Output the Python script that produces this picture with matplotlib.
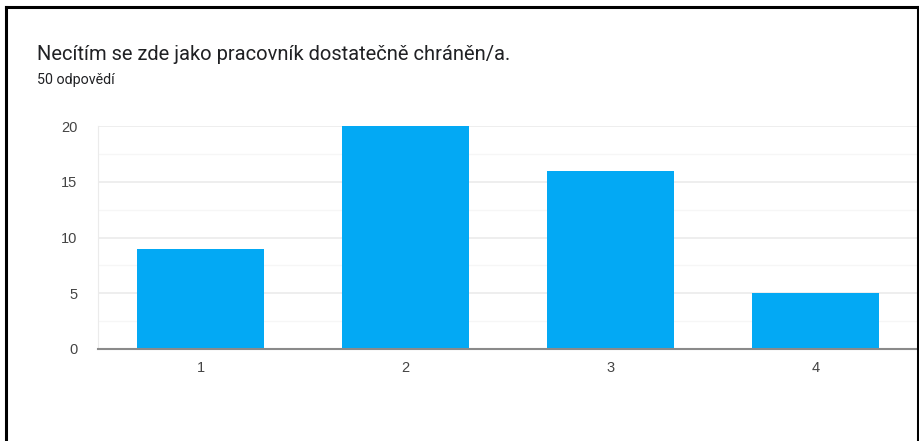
import matplotlib
matplotlib.use("Agg")
import matplotlib.pyplot as plt
from matplotlib.lines import Line2D

# data
categories = ["1", "2", "3", "4"]
counts = [9, 20, 16, 5]
title = "Necítím se zde jako pracovník dostatečně chráněn/a."
subtitle = "50 odpovědí"
y_ticks = [0, 5, 10, 15, 20]
y_minor = [2.5, 7.5, 12.5, 17.5]

plt.rcParams["font.family"] = ["Roboto", "DejaVu Sans"]

fig = plt.figure(figsize=(9.2, 4.41), dpi=100)
ax = fig.add_axes([98 / 920, 1 - 349 / 441, 820 / 920, 223 / 441])

x = list(range(len(categories)))
ax.bar(x, counts, width=0.62, color="#03a9f4", zorder=3)

ax.set_xlim(-0.5, len(categories) - 0.5)
ax.set_ylim(0, 20)
ax.set_xticks(x)
ax.set_xticklabels(categories)
ax.set_yticks(y_ticks)
ax.set_yticks(y_minor, minor=True)

ax.grid(axis="y", which="major", color="#ebebeb", linewidth=1.2, zorder=0)
ax.grid(axis="y", which="minor", color="#f6f6f6", linewidth=1.0, zorder=0)
ax.tick_params(axis="both", which="both", length=0, labelsize=10.5, labelcolor="#444444")
ax.tick_params(axis="y", pad=15)
ax.tick_params(axis="x", pad=9)
for lbl in ax.get_xticklabels() + ax.get_yticklabels():
    lbl.set_family(["Liberation Sans", "DejaVu Sans"])

for side in ["top", "right"]:
    ax.spines[side].set_visible(False)
ax.spines["left"].set_color("#ebebeb")
ax.spines["bottom"].set_color("#8a8a8a")
ax.spines["bottom"].set_linewidth(1.5)
ax.spines["bottom"].set_zorder(4)

fig.text(37 / 920, 1 - 60 / 441, title, fontsize=14.5, color="#202124", va="baseline")
fig.text(37 / 920, 1 - 84 / 441, subtitle, fontsize=10.3, color="#202124", va="baseline")

# black frame of the screenshot
frame = dict(color="black", linewidth=2.2, transform=fig.transFigure)
fig.add_artist(Line2D([6 / 920, 918 / 920], [1 - 7 / 441, 1 - 7 / 441], **frame))
fig.add_artist(Line2D([6 / 920, 6 / 920], [0, 1 - 7 / 441], **frame))
fig.add_artist(Line2D([918 / 920, 918 / 920], [0, 1 - 7 / 441], **frame))

fig.savefig("out.png", dpi=100)
